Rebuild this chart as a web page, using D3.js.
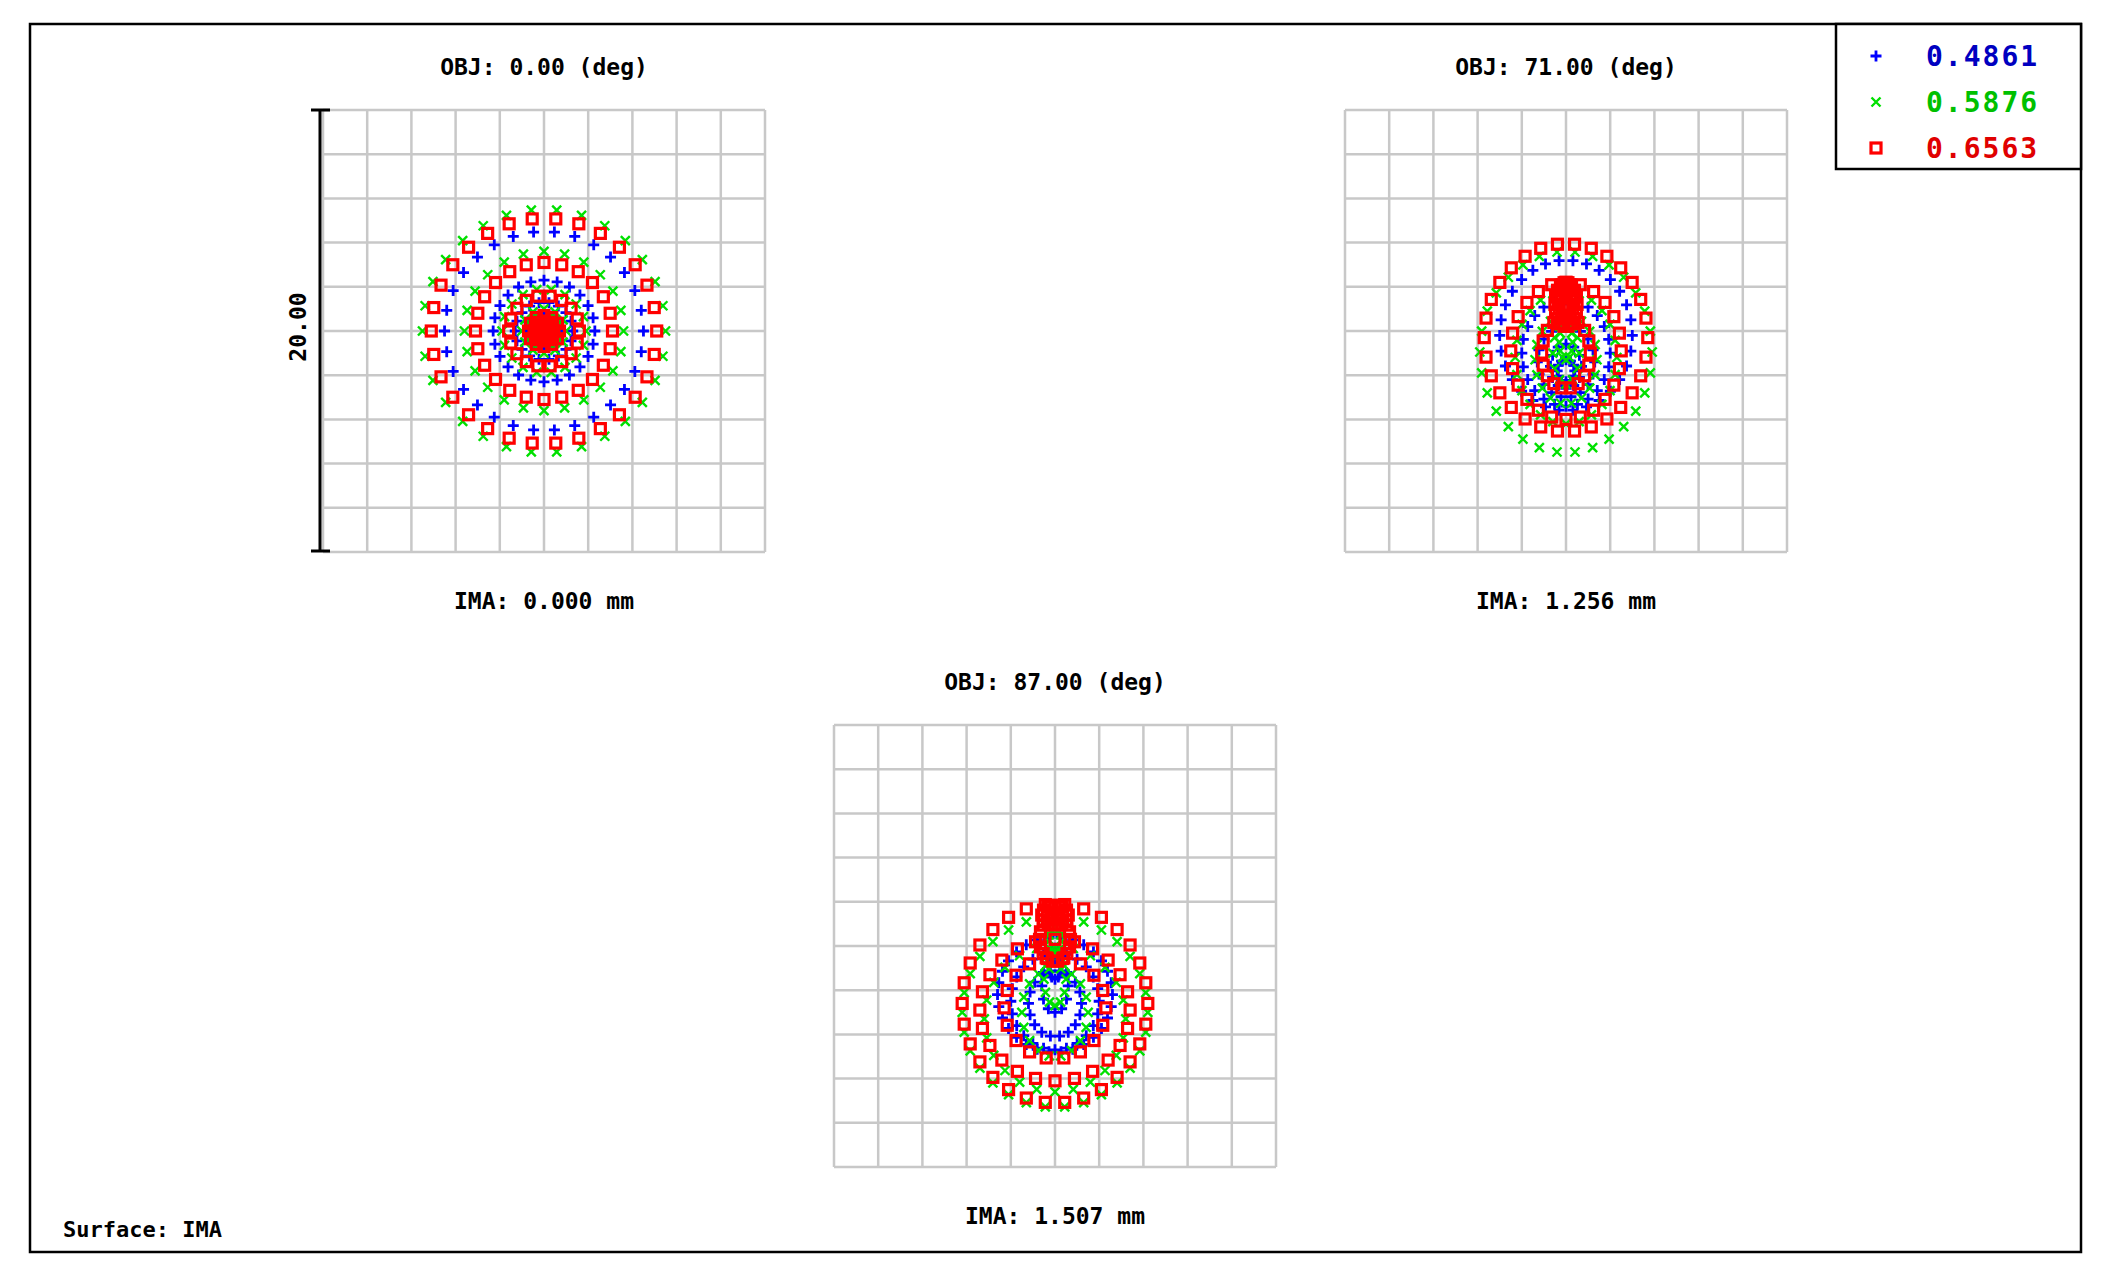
<!DOCTYPE html>
<html><head><meta charset="utf-8">
<script src="https://cdn.jsdelivr.net/npm/d3@7/dist/d3.min.js"></script>
<style>body{margin:0;background:#fff}text{font-family:"DejaVu Sans Mono",monospace;font-weight:bold}</style>
</head><body>
<script>
// wavelengths (legend)
const wavelengths = ["0.4861","0.5876","0.6563"];
const colors = ["#0000ff","#00e000","#ff0000"];
const fieldTitles = ["OBJ: 0.00 (deg)","OBJ: 71.00 (deg)","OBJ: 87.00 (deg)"];
const imaLabels = ["IMA: 0.000 mm","IMA: 1.256 mm","IMA: 1.507 mm"];
const scaleLabel = "20.00";
const domainUm = [-10,10];
const gridTicks = [-10,-8,-6,-4,-2,0,2,4,6,8,10];
// ray rings: [cx, cy, rx, ry, count] in µm
const f1Blue  = [[0,0,4.5,4.5,30],[0,0,2.3,2.3,24],[0,0,1.3,1.3,18],[0,0,0.8,0.8,12],[0,0,0.5,0.5,12],[0,0,0.25,0.25,6]];
const f1Green = [[0,0,5.5,5.5,30],[0,0,3.6,3.6,24],[0,0,1.9,1.9,18],[0,0,1.0,1.0,12],[0,0,0.6,0.6,12],[0,0,0.3,0.3,6]];
const f1Red   = [[0,0,5.1,5.1,30],[0,0,3.1,3.1,24],[0,0,1.6,1.6,18],[0,0,0.7,0.7,12],[0,0,0.45,0.45,12],[0,0,0.25,0.25,6]];
const f2Blue  = [[0,-0.2,3.0,3.4,30],[0,-1.0,2.0,2.4,24],[0,-1.4,1.3,1.6,18],[0,-1.6,0.7,1.0,12],[0,-1.8,0.4,0.5,12]];
const f2Green = [[0,-0.95,3.9,4.55,30],[0,-1.2,2.3,3.0,24],[0,-1.3,1.4,2.0,18],[0,-1.0,0.6,1.4,12],[0,-0.5,0.3,0.8,12]];
const f2Red   = [[0,-0.3,3.7,4.25,30],[0,-0.9,2.5,3.1,24],[0,-1.0,1.1,1.6,18],[0,1.2,0.5,1.0,18],[0,1.4,0.35,0.8,12],[0,1.5,0.2,0.5,6]];
const f3Blue  = [[0,-2.2,2.6,2.6,30],[0,-2.5,2.0,2.2,24],[0,-2.6,1.2,1.5,18],[0,-1.8,0.6,1.2,12],[0,-0.8,0.3,0.7,12]];
const f3Green = [[0,-3.0,4.2,4.3,30],[0,-3.3,3.2,3.3,24],[0,-3.0,1.5,2.0,18],[0,-1.5,0.5,1.2,12],[0,0.2,0.3,0.6,12]];
const f3Red   = [[0,-2.6,4.2,4.5,30],[0,-2.9,3.4,3.2,24],[0,-2.8,2.3,2.3,18],[0,0.3,0.7,1.0,18],[0,1.4,0.6,0.45,12],[0,1.5,0.35,0.3,6]];
const fieldData = [[f1Blue,f1Green,f1Red],[f2Blue,f2Green,f2Red],[f3Blue,f3Green,f3Red]];

const W=2109,H=1273;
const svg=d3.select("body").append("svg").attr("width",W).attr("height",H);
svg.append("rect").attr("x",30).attr("y",24).attr("width",2051).attr("height",1228).attr("fill","none").attr("stroke","#000").attr("stroke-width",2.5);

const panels=[{x:323,y:110,s:442},{x:1345,y:110,s:442},{x:834,y:725,s:442}];

function marker(g,type,x,y,c){
  if(type===0){g.append("path").attr("d",`M${x-5.5},${y}H${x+5.5}M${x},${y-5.5}V${y+5.5}`).attr("stroke",c).attr("stroke-width",2.8);}
  else if(type===1){g.append("path").attr("d",`M${x-4.5},${y-4.5}L${x+4.5},${y+4.5}M${x-4.5},${y+4.5}L${x+4.5},${y-4.5}`).attr("stroke",c).attr("stroke-width",2.4);}
  else {g.append("rect").attr("x",x-5).attr("y",y-5).attr("width",10).attr("height",10).attr("fill","none").attr("stroke",c).attr("stroke-width",3.2);}
}

panels.forEach((p,i)=>{
  const xs=d3.scaleLinear().domain(domainUm).range([p.x,p.x+p.s]);
  const ys=d3.scaleLinear().domain(domainUm).range([p.y+p.s,p.y]);
  const g=svg.append("g");
  gridTicks.forEach(t=>{
    g.append("line").attr("x1",xs(t)).attr("x2",xs(t)).attr("y1",p.y).attr("y2",p.y+p.s).attr("stroke","#c8c8c8").attr("stroke-width",2.5);
    g.append("line").attr("y1",ys(t)).attr("y2",ys(t)).attr("x1",p.x).attr("x2",p.x+p.s).attr("stroke","#c8c8c8").attr("stroke-width",2.5);
  });
  const cx=p.x+p.s/2;
  svg.append("text").attr("x",cx).attr("y",p.y-35).attr("text-anchor","middle").attr("font-size",23).text(fieldTitles[i]);
  svg.append("text").attr("x",cx).attr("y",p.y+p.s+57).attr("text-anchor","middle").attr("font-size",23).text(imaLabels[i]);
  fieldData[i].forEach((rings,w)=>{
    rings.forEach(r=>{
      const [rcx,rcy,rx,ry,n]=r;
      for(let k=0;k<n;k++){
        const a=2*Math.PI*k/n;
        marker(g,w,xs(rcx+rx*Math.cos(a)),ys(rcy+ry*Math.sin(a)),colors[w]);
      }
    });
  });
});

// scale bar on first panel
const sb=svg.append("g").attr("stroke","#000").attr("stroke-width",3);
sb.append("line").attr("x1",320).attr("x2",320).attr("y1",110).attr("y2",551);
sb.append("line").attr("x1",311).attr("x2",330).attr("y1",110).attr("y2",110);
sb.append("line").attr("x1",311).attr("x2",330).attr("y1",551).attr("y2",551);
svg.append("text").attr("transform","translate(306,327) rotate(-90)").attr("text-anchor","middle").attr("font-size",23).text(scaleLabel);

// legend
svg.append("rect").attr("x",1836).attr("y",24).attr("width",245).attr("height",145).attr("fill","#fff").attr("stroke","#000").attr("stroke-width",2.5);
const lg=svg.append("g");
wavelengths.forEach((w,i)=>{
  const y=56+i*46;
  marker(lg,i,1876,y,colors[i]);
  lg.append("text").attr("x",1926).attr("y",y+10).attr("font-size",28).attr("letter-spacing",2).attr("fill",i===1?"#00c000":(i===0?"#0000c0":"#e00000")).text(w);
});
svg.append("text").attr("x",63).attr("y",1237).attr("font-size",22).text("Surface: IMA");
</script>
</body></html>
